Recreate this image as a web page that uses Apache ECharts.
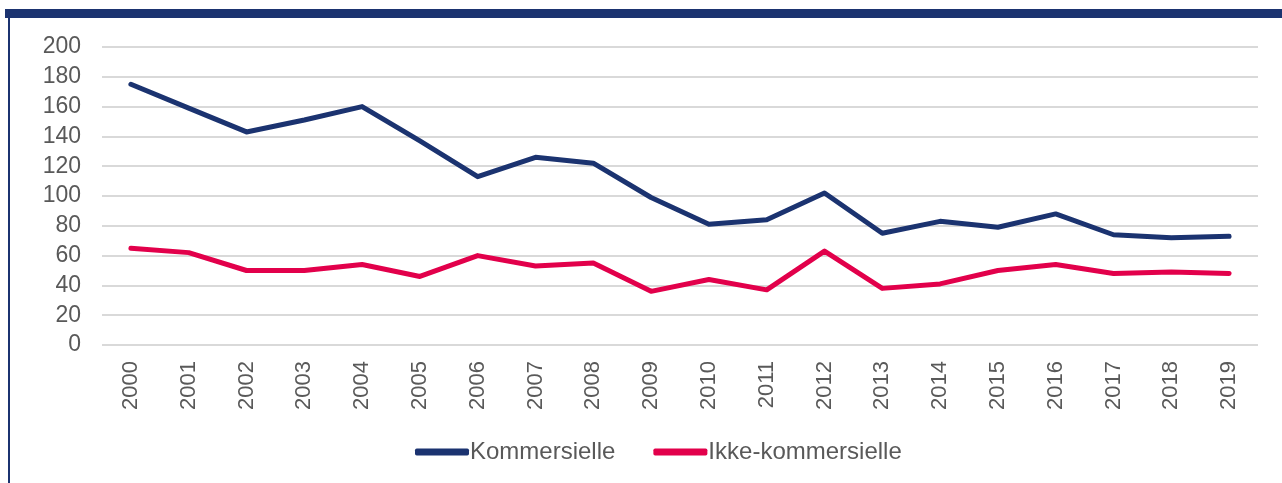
<!DOCTYPE html>
<html>
<head>
<meta charset="utf-8">
<script src="https://cdn.jsdelivr.net/npm/echarts@6/dist/echarts.min.js"></script>
<style>
  html, body { margin: 0; padding: 0; background: #fff; }
  #chart { width: 1282px; height: 483px; }
</style>
</head>
<body>
<div id="chart"></div>
<script>
var years = ['2000', '2001', '2002', '2003', '2004', '2005', '2006', '2007', '2008', '2009',
	'2010', '2011', '2012', '2013', '2014', '2015', '2016', '2017', '2018', '2019'];
var kommersielle = [175, 159, 143, 151, 160, 137, 113, 126, 122, 99, 81, 84, 102, 75, 83, 79, 88, 74, 72, 73];
var ikkeKommersielle = [65, 62, 50, 50, 54, 46, 60, 53, 55, 36, 44, 37, 63, 38, 41, 50, 54, 48, 49, 48];

var navy = '#1b3370';
var red = '#e2004b';
var textColor = '#595959';
var font = 'Liberation Sans, Arial, sans-serif';

var chart = echarts.init(document.getElementById('chart'));
chart.setOption({
	animation: false,
	textStyle: { fontFamily: font },
	graphic: [
		// dark frame bar along the top and thin line down the left
		{ type: 'rect', shape: { x: 5, y: 9, width: 1277, height: 9 }, style: { fill: navy } },
		{ type: 'rect', shape: { x: 8, y: 18, width: 2, height: 465 }, style: { fill: navy } }
	],
	grid: { left: 102, right: 24, top: 47, bottom: 138 },
	legend: {
		bottom: 14,
		left: 410,
		itemWidth: 54,
		itemHeight: 7,
		itemGap: 38,
		icon: 'roundRect',
		textStyle: { color: textColor, fontSize: 24, fontFamily: font, padding: [0, 0, 0, -4] },
		data: ['Kommersielle', 'Ikke-kommersielle']
	},
	xAxis: {
		type: 'category',
		data: years,
		boundaryGap: true,
		axisLine: { show: false },
		axisTick: { show: false },
		axisLabel: { rotate: 90, color: textColor, fontSize: 22, fontFamily: font, margin: 16, interval: 0 }
	},
	yAxis: {
		type: 'value',
		min: 0,
		max: 200,
		interval: 20,
		axisLine: { show: false },
		axisTick: { show: false },
		axisLabel: { color: textColor, fontSize: 23, fontFamily: font, margin: 21 },
		splitLine: { lineStyle: { color: '#d9d9d9', width: 2 } }
	},
	series: [{
		name: 'Kommersielle',
		type: 'line',
		data: kommersielle,
		showSymbol: false,
		symbol: 'none',
		itemStyle: { color: navy },
		lineStyle: { color: navy, width: 5, cap: 'round', join: 'round' }
	}, {
		name: 'Ikke-kommersielle',
		type: 'line',
		data: ikkeKommersielle,
		showSymbol: false,
		symbol: 'none',
		itemStyle: { color: red },
		lineStyle: { color: red, width: 5, cap: 'round', join: 'round' }
	}]
});
</script>
</body>
</html>
